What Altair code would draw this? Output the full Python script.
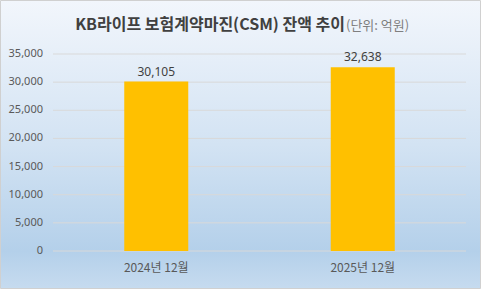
import altair as alt
import pandas as pd

categories = ["2024년 12월", "2025년 12월"]
values = [30105, 32638]
tick_values = [0, 5000, 10000, 15000, 20000, 25000, 30000, 35000]
title_main = "KB라이프 보험계약마진(CSM) 잔액 추이"
title_unit = "(단위: 억원)"

bars_df = pd.DataFrame({"period": categories, "value": values})
grid_df = pd.DataFrame({"value": tick_values})

W, H = 413, 197
PL, PT, PR, PB = 53, 54, 15, 38

gradient = alt.Gradient(
    gradient="linear",
    x1=0, x2=0, y1=0, y2=1,
    stops=[
        alt.GradientStop(offset=0, color="#f2f6fc"),
        alt.GradientStop(offset=0.5, color="#d3e3f3"),
        alt.GradientStop(offset=0.87, color="#b4d0ea"),
        alt.GradientStop(offset=1, color="#c6dbef"),
    ],
)

one = alt.Data(values=[{}])

y_scale = alt.Scale(domain=[0, 35000])
x_axis = alt.Axis(labelAngle=0, domain=False, ticks=False, labelPadding=11,
                  labelFont="Noto Sans CJK KR", labelFontSize=12,
                  labelColor="#595959", zindex=1)

bg = alt.Chart(one).mark_rect(color=gradient, stroke="#d0d0d0", strokeWidth=1).encode(
    x=alt.value(-PL + 0.5), x2=alt.value(W + PR - 0.5),
    y=alt.value(-PT + 0.5), y2=alt.value(H + PB - 0.5),
)

grid = alt.Chart(grid_df).mark_rule(color="#d9d9d9", strokeWidth=1).encode(
    y=alt.Y("value:Q", scale=y_scale, title=None, axis=None)
)

ylabels = alt.Chart(grid_df).mark_text(align="right", baseline="middle", font="Noto Sans",
                                        fontSize=11, color="#595959").encode(
    x=alt.value(-10),
    y=alt.Y("value:Q", scale=y_scale, title=None, axis=None),
    text=alt.Text("value:Q", format=",d"),
)

bars = alt.Chart(bars_df).mark_bar(size=64, color="#FFC000").encode(
    x=alt.X("period:N", sort=categories, title=None, axis=x_axis),
    y=alt.Y("value:Q", scale=y_scale, title=None, axis=None),
)

labels = alt.Chart(bars_df).mark_text(dy=-10, font="Noto Sans", fontSize=12, color="#404040").encode(
    x=alt.X("period:N", sort=categories, title=None, axis=x_axis),
    y=alt.Y("value:Q", scale=y_scale, title=None, axis=None),
    text=alt.Text("value:Q", format=",d"),
)

t_main = alt.Chart(one).mark_text(align="right", baseline="alphabetic", font="Noto Sans CJK KR",
                                  fontSize=16, fontWeight="bold", color="#404040").encode(
    x=alt.value(292), y=alt.value(-24), text=alt.value(title_main))
t_unit = alt.Chart(one).mark_text(align="left", baseline="alphabetic", font="Noto Sans CJK KR",
                                  fontSize=13, color="#7f7f7f").encode(
    x=alt.value(293), y=alt.value(-24), text=alt.value(title_unit))

chart = alt.layer(bg, grid, ylabels, bars, labels, t_main, t_unit).properties(
    width=W, height=H,
    padding={"left": PL, "top": PT, "right": PR, "bottom": PB},
    autosize=alt.AutoSizeParams(type="none"),
).configure_view(stroke=None).configure(background="#ffffff")

chart.save("out.html", embed_options={"renderer": "svg", "actions": False})
